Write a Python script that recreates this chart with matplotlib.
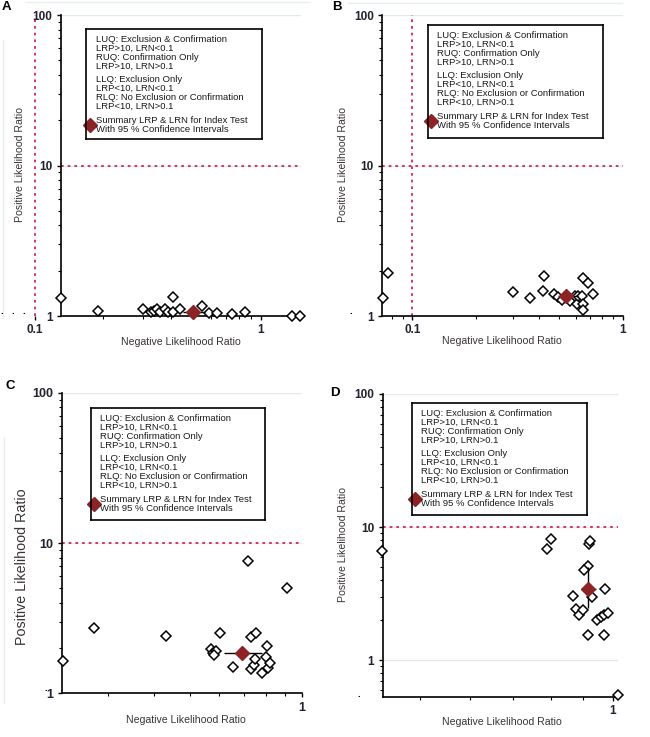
import matplotlib
matplotlib.use("Agg")
import matplotlib.pyplot as plt
from matplotlib.ticker import LogLocator, NullFormatter, FixedLocator
from matplotlib.lines import Line2D

plt.rcParams["font.family"] = ["Liberation Sans", "DejaVu Sans"]

# ---- data (LRN = x, LRP = y) ----
a_lrn = [0.13, 0.19, 0.30, 0.325, 0.336, 0.348, 0.357, 0.376, 0.389, 0.406,
         0.409, 0.438, 0.548, 0.591, 0.637, 0.745, 0.849, 1.37, 1.49]
a_lrp = [1.32, 1.08, 1.12, 1.07, 1.08, 1.11, 1.07, 1.11, 1.07, 1.07,
         1.34, 1.11, 1.16, 1.05, 1.04, 1.03, 1.07, 1.0, 1.0]
a_summary = (0.501, 1.06)
a_ci_lrn = (0.453, 0.565)
a_ci_lrp = (1.03, 1.09)

b_lrn = [0.0723, 0.0769, 0.300, 0.361, 0.417, 0.422, 0.473, 0.494, 0.516,
         0.562, 0.593, 0.604, 0.615, 0.638, 0.646, 0.646, 0.648, 0.687, 0.720]
b_lrp = [1.32, 1.92, 1.44, 1.31, 1.46, 1.85, 1.40, 1.34, 1.28,
         1.26, 1.35, 1.20, 1.36, 1.36, 1.20, 1.10, 1.78, 1.66, 1.40]
b_summary = (0.540, 1.36)
b_ci_lrn = (0.49, 0.61)
b_ci_lrp = (1.28, 1.44)

c_lrn = [0.227, 0.275, 0.432, 0.568, 0.575, 0.587, 0.580, 0.601, 0.653, 0.717,
         0.728, 0.752, 0.732, 0.743, 0.748, 0.780, 0.800, 0.807, 0.812, 0.821, 0.914]
c_lrp = [1.64, 2.71, 2.41, 1.96, 1.86, 1.91, 1.79, 2.51, 1.50, 7.64,
         2.38, 2.53, 1.44, 1.54, 1.68, 1.37, 1.75, 2.06, 1.48, 1.58, 5.0]
c_summary = (0.689, 1.85)
c_ci_lrn = (0.618, 0.78)
c_ci_lrp = (1.78, 1.92)

d_lrn = [0.437, 0.791, 0.800, 0.918, 0.920, 0.915, 0.902, 0.868, 0.929, 0.971,
         0.877, 0.886, 0.899, 0.946, 0.957, 0.968, 0.982, 0.915, 0.968, 1.02]
d_lrp = [6.6, 6.83, 8.08, 7.41, 7.85, 5.09, 4.75, 3.03, 2.99, 3.40,
         2.40, 2.18, 2.38, 2.0, 2.12, 2.18, 2.24, 1.54, 1.54, 0.546]
d_summary = (0.916, 3.42)
d_ci_lrn = (0.891, 0.940)
d_ci_lrp = (2.45, 5.03)

legend_lines = [
    "LUQ: Exclusion & Confirmation",
    "LRP>10, LRN<0.1",
    "RUQ: Confirmation Only",
    "LRP>10, LRN>0.1",
    "LLQ: Exclusion Only",
    "LRP<10, LRN<0.1",
    "RLQ: No Exclusion or Confirmation",
    "LRP<10, LRN>0.1",
    "Summary LRP & LRN for Index Test",
    "With 95 % Confidence Intervals",
]
legend_offsets = [10, 19, 28.5, 37.5, 50, 59, 68.5, 77.5, 91.5, 100]

RED = "#cc2c55"
DARKRED = "#8c2426"
GRID = "#e3eaec"
LABEL = "#3b3434"

W, H = 650, 737
fig = plt.figure(figsize=(W / 100, H / 100), dpi=100)


def fig_box(left, top, right, bottom):
    return [left / W, 1 - bottom / H, (right - left) / W, (bottom - top) / H]


panels = [
    dict(lrn=a_lrn, lrp=a_lrp, s=a_summary, ci_x=a_ci_lrn, ci_y=a_ci_lrp,
         box=(35, 15, 300.8, 316), xlim=(0.1, 1.5), ylim=(1, 100), spine=0.13,
         legend=(86.5, 29, 261.7, 139), letter="A", letter_xy=(2, 7),
         xlabel_xy=(181, 342), ylabel_xy=(20, 164), ysize=7.6, ticksize=8.5),
    dict(lrn=b_lrn, lrp=b_lrp, s=b_summary, ci_x=b_ci_lrn, ci_y=b_ci_lrp,
         box=(382.3, 15, 622.7, 316), xlim=(0.072, 1.0), ylim=(1, 100), spine=None,
         legend=(427.7, 25, 603.3, 137.7), letter="B", letter_xy=(332, 7),
         xlabel_xy=(502, 341), ylabel_xy=(343, 164), ysize=7.6, ticksize=8.5),
    dict(lrn=c_lrn, lrp=c_lrp, s=c_summary, ci_x=c_ci_lrn, ci_y=c_ci_lrp,
         box=(62, 392.7, 301.7, 693.3), xlim=(0.226, 1.0), ylim=(1, 100), spine=None,
         legend=(90.7, 408.3, 265, 520), letter="C", letter_xy=(5, 386),
         xlabel_xy=(186, 720), ylabel_xy=(22, 567), ysize=10.3, ticksize=9),
    dict(lrn=d_lrn, lrp=d_lrp, s=d_summary, ci_x=d_ci_lrn, ci_y=d_ci_lrp,
         box=(382.7, 394, 618.3, 696.7), xlim=(0.438, 1.02), ylim=(0.53, 100), spine=None,
         legend=(411.7, 403.3, 587.3, 515), letter="D", letter_xy=(330, 393),
         xlabel_xy=(502, 722), ylabel_xy=(343, 545), ysize=7.6, ticksize=8.5),
]

for p in panels:
    ax = fig.add_axes(fig_box(*p["box"]))
    ax.set_xscale("log")
    ax.set_yscale("log")
    ax.set_xlim(*p["xlim"])
    ax.set_ylim(*p["ylim"])
    ax.patch.set_alpha(0)

    x0 = p["spine"] if p["spine"] else p["xlim"][0]
    x1 = p["xlim"][1]

    ax.spines["top"].set_visible(False)
    ax.spines["right"].set_visible(False)
    for side in ["left", "bottom"]:
        ax.spines[side].set_linewidth(1.2)
    if p["spine"]:
        ax.spines["left"].set_position(("data", p["spine"]))
        ax.spines["bottom"].set_bounds(p["spine"], x1)

    # light gridlines at decades
    decades = [v for v in [1, 10, 100] if p["ylim"][0] < v <= p["ylim"][1]]
    ax.hlines(decades, x0, x1, colors=GRID, linewidth=1, zorder=0)

    # quadrant thresholds
    ax.hlines(10, x0, x1, colors=RED, linestyles=(0, (1.5, 2.2)), linewidth=1.3, zorder=1)
    if p["xlim"][0] <= 0.1 <= p["xlim"][1]:
        ax.vlines(0.1, p["ylim"][0], p["ylim"][1], colors=RED,
                  linestyles=(0, (1.5, 2.2)), linewidth=1.3, zorder=1, clip_on=False)

    ax.plot(p["lrn"], p["lrp"], "D", mfc="white", mec="black", ms=5, mew=1.1,
            clip_on=False, zorder=3)

    sx, sy = p["s"]
    ax.hlines(sy, p["ci_x"][0], p["ci_x"][1], colors="black", linewidth=1, zorder=4)
    ax.vlines(sx, p["ci_y"][0], p["ci_y"][1], colors="black", linewidth=1, zorder=4)
    ax.plot(sx, sy, "D", color=DARKRED, ms=7.5, mec=DARKRED, clip_on=False, zorder=5)

    ax.yaxis.set_major_locator(FixedLocator([1, 10, 100]))
    ax.set_yticklabels(["1", "10", "100"])
    ax.yaxis.set_minor_locator(LogLocator(base=10, subs=range(2, 10), numticks=20))
    ax.yaxis.set_minor_formatter(NullFormatter())

    xt = [v for v in [0.1, 1] if p["xlim"][0] <= v <= p["xlim"][1] + 1e-9]
    ax.xaxis.set_major_locator(FixedLocator(xt))
    ax.set_xticklabels([("0.1" if v < 1 else "1") for v in xt])
    ax.xaxis.set_minor_locator(LogLocator(base=10, subs=range(2, 10), numticks=20))
    ax.xaxis.set_minor_formatter(NullFormatter())

    ax.tick_params(which="major", direction="out", length=3, width=1,
                   labelsize=p["ticksize"], pad=3, labelcolor="#222230")
    ax.tick_params(which="minor", direction="out", length=2, width=0.8)
    for lab in ax.get_xticklabels() + ax.get_yticklabels():
        lab.set_fontweight("bold")

    # legend box
    l, t, r, b = p["legend"]
    lax = fig.add_axes(fig_box(l, t, r, b))
    lax.set_xlim(0, r - l)
    lax.set_ylim(b - t, 0)
    lax.set_xticks([])
    lax.set_yticks([])
    for sp in lax.spines.values():
        sp.set_linewidth(1.2)
    for line, off in zip(legend_lines, legend_offsets):
        lax.text(9.5, off, line, fontsize=6.8, color="#1a1a1a", va="center", ha="left")
    lax.plot(3.5, 96, "D", color=DARKRED, ms=7, clip_on=False)

    fig.text(p["xlabel_xy"][0] / W, 1 - p["xlabel_xy"][1] / H, "Negative Likelihood Ratio",
             fontsize=7.6, color=LABEL, ha="center", va="center")
    fig.text(p["ylabel_xy"][0] / W, 1 - p["ylabel_xy"][1] / H, "Positive Likelihood Ratio",
             fontsize=p["ysize"], color=LABEL, ha="center", va="center", rotation=90)
    fig.text(p["letter_xy"][0] / W, 1 - p["letter_xy"][1] / H, p["letter"],
             fontsize=9.5, fontweight="bold", ha="left", va="center")

# small stray marks in the source figure
for x, y, s in [(1, 316, ".   .   ."), (349, 316, "."), (44, 693, "."), (357, 699, ".")]:
    fig.text(x / W, 1 - y / H, s, fontsize=7, fontweight="bold", ha="left", va="bottom")

# faint panel edge lines
for xs, ys in [((25, 310), (1.5, 1.5)), ((348, 622), (3, 3)),
               ((2.5, 2.5), (40, 318)), ((4, 4), (437, 703))]:
    fig.add_artist(Line2D([x / W for x in xs], [1 - y / H for y in ys],
                          color="#e6eef0", linewidth=1))

fig.savefig("out.png", dpi=100)
